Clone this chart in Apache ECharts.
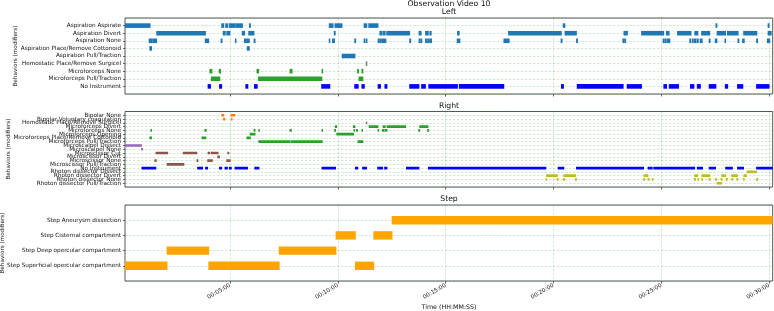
<!DOCTYPE html>
<html>
<head>
<meta charset="utf-8">
<script src="https://cdn.jsdelivr.net/npm/echarts@6.0.0/dist/echarts.min.js"></script>
<style>
  html, body { margin: 0; padding: 0; background: #fff; }
  #chart { width: 774px; height: 311px; }
</style>
</head>
<body>
<div id="chart"></div>
<script>
// time axis (seconds)
const timeMin = 8;
const timeMax = 1810;
const tickSeconds = [300, 600, 900, 1200, 1500, 1800];

// ---- Left panel ----
const leftRows = [
  'Aspiration Aspirate', 'Aspiration Divert', 'Aspiration None',
  'Aspiration Place/Remove Cottonoid', 'Aspiration Pull/Traction',
  'Hemostatic Place/Remove Surgicel', 'Microforceps None',
  'Microforceps Pull/Traction', 'No Instrument'
];
const leftColors = ['#1f77b4', '#1f77b4', '#1f77b4', '#1f77b4', '#1f77b4', '#7f7f7f', '#2ca02c', '#2ca02c', '#0000ff'];
const leftSpans = [
  [[8,78],[277,283],[288,294],[298,315],[317,335],[354,357],[576,587],[592,612],[673,681],[686,712],[1227,1232],[1652,1655],[1797,1800]],
  [[96,232],[281,287],[291,300],[334,341],[352,367],[590,593],[717,723],[726,732],[736,800],[826,832],[844,852],[856,860],[933,938],[1075,1222],[1232,1264],[1396,1406],[1445,1507],[1514,1522],[1545,1583],[1593,1602],[1612,1635],[1655,1679],[1684,1714],[1729,1766],[1797,1806]],
  [[75,84],[86,96],[231,241],[275,278],[315,317],[340,346],[348,354],[367,370],[576,578],[585,591],[647,650],[673,676],[680,681],[712,715],[717,720],[722,725],[727,734],[800,803],[826,829],[831,834],[844,848],[850,855],[857,861],[932,940],[1062,1077],[1221,1224],[1264,1267],[1393,1396],[1398,1401],[1505,1508],[1510,1514],[1517,1524],[1579,1582],[1586,1589],[1592,1596],[1599,1603],[1608,1614],[1633,1636],[1650,1655],[1677,1679],[1713,1716],[1726,1731],[1765,1768],[1795,1802]],
  [[77,82],[348,354]],
  [[612,648]],
  [[679,681]],
  [[244,250],[270,274],[375,380],[467,473],[556,558],[655,658],[667,670]],
  [[248,272],[379,469],[470,556],[659,670]],
  [[239,246],[271,277],[344,350],[368,376],[555,578],[647,657],[667,674],[712,719],[731,737],[800,826],[833,844],[853,933],[938,1062],[1222,1228],[1266,1394],[1405,1445],[1507,1515],[1522,1548],[1581,1591],[1600,1609],[1633,1652],[1678,1685],[1712,1727],[1765,1800]]
];

// ---- Right panel ----
const rightRows = [
  'Bipolar None', 'Bipolar Voluntary coagulation', 'Hemostatic Place/Remove Surgicel',
  'Microforceps Divert', 'Microforceps None', 'Microforceps Opening',
  'Microforceps Place/Remove Cottonoid', 'Microforceps Pull/Traction',
  'Microscalpel Dissect', 'Microscalpel None', 'Microscissor Cut', 'Microscissor Divert',
  'Microscissor None', 'Microscissor Pull/Traction', 'No Instrument',
  'Rhoton dissector Dissect', 'Rhoton dissector Divert', 'Rhoton dissector None',
  'Rhoton dissector Pull/Traction'
];
const rightColors = [
  '#ff7f0e', '#ff7f0e', '#7f7f7f', '#2ca02c', '#2ca02c', '#2ca02c', '#2ca02c', '#2ca02c',
  '#9467bd', '#9467bd', '#8c564b', '#8c564b', '#8c564b', '#8c564b', '#0000ff',
  '#bcbd22', '#bcbd22', '#bcbd22', '#bcbd22'
];
const rightSpans = [
  [[277,283],[303,314]],
  [[282,286],[304,306]],
  [[679,681]],
  [[593,597],[643,648],[687,712],[726,732],[737,789],[828,851]],
  [[80,82],[230,234],[367,370],[380,382],[467,471],[556,558],[591,594],[645,647],[652,655],[667,669],[712,714],[724,728],[731,737],[825,828],[850,853]],
  [[356,370],[597,644]],
  [[77,82],[222,233],[347,357]],
  [[380,467],[470,557],[656,670]],
  [[8,54]],
  [[54,57]],
  [[94,127],[170,208],[239,244],[248,267],[294,297]],
  [[266,271]],
  [[91,95],[208,211],[238,243],[245,251],[291,301]],
  [[125,172]],
  [[55,94],[210,224],[232,238],[271,277],[286,293],[298,304],[314,349],[369,381],[556,594],[649,656],[669,680],[711,725],[730,737],[791,826],[852,1179],[1213,1229],[1264,1451],[1463,1475],[1479,1593],[1600,1615],[1633,1651],[1679,1698],[1712,1729],[1765,1810]],
  [[1739,1765]],
  [[1181,1211],[1229,1262],[1452,1463],[1593,1601],[1613,1635],[1668,1679],[1696,1712],[1730,1737]],
  [[1180,1181],[1210,1213],[1228,1231],[1261,1264],[1451,1454],[1463,1466],[1475,1477],[1592,1595],[1602,1604],[1613,1615],[1633,1636],[1651,1654],[1666,1669],[1681,1684],[1696,1699],[1710,1713],[1729,1731],[1765,1768]],
  [[1655,1668]]
];

// ---- Step panel ----
const stepRows = [
  'Step Aneurysm dissection', 'Step Cisternal compartment',
  'Step Deep opercular compartment', 'Step Superficial opercular compartment'
];
const stepColors = ['#ffa500', '#ffa500', '#ffa500', '#ffa500'];
const stepSpans = [
  [[751,1810]],
  [[595,649],[700,751]],
  [[125,241],[437,595]],
  [[8,125],[241,437],[649,700]]
];

const FONT = 'DejaVu Sans';
const TXT = '#111';
const BAR_H = 0.5;

function hms(v) {
  const h = Math.floor(v / 3600), m = Math.floor((v % 3600) / 60), s = Math.round(v % 60);
  const p = (n) => String(n).padStart(2, '0');
  return p(h) + ':' + p(m) + ':' + p(s);
}

// rows sit on category slots 1..n, slots 0 and n+1 are blank padding
function buildItems(spans, colors) {
  const out = [];
  spans.forEach((row, i) => {
    row.forEach((sp) => {
      out.push({ value: [sp[0], sp[1], i + 1], itemStyle: { color: colors[i] } });
    });
  });
  return out;
}

function renderSpan(params, api) {
  const row = api.value(2);
  const a = api.coord([api.value(0), row]);
  const b = api.coord([api.value(1), row]);
  const step = Math.abs(api.coord([api.value(0), row + 1])[1] - a[1]);
  // bar + thin edge like the original
  const h = step * BAR_H + 0.8;
  let x = a[0] - 0.4;
  let w = b[0] - a[0] + 0.8;
  if (w < 1.4) { x -= (1.4 - w) / 2; w = 1.4; }
  const cs = params.coordSys;
  const shape = echarts.graphic.clipRectByRect(
    { x: x, y: a[1] - h / 2, width: w, height: h },
    { x: cs.x, y: cs.y, width: cs.width, height: cs.height }
  );
  return shape && { type: 'rect', shape: shape, style: { fill: api.visual('color') } };
}

const grids = [
  { left: 125, right: 1.3, top: 18, height: 76 },
  { left: 125, right: 1.3, top: 111.5, height: 75.5 },
  { left: 125, right: 1.3, top: 205, height: 76 }
].map((g) => Object.assign({ show: true, borderColor: '#444', borderWidth: 0.9 }, g));

const gridLineStyle = { color: 'rgba(0,128,0,0.22)', type: [2.5, 1.5], width: 0.8 };

function makeX(idx, showLabels) {
  return {
    type: 'value', gridIndex: idx, min: timeMin, max: timeMax, position: 'bottom',
    axisLine: { show: false, onZero: false },
    axisTick: { show: true, length: 2.5, customValues: tickSeconds, lineStyle: { color: '#444', width: 0.8 } },
    axisLabel: {
      show: showLabels, customValues: tickSeconds, rotate: 30, margin: 4,
      fontSize: 5.7, fontFamily: FONT, color: TXT, formatter: hms
    },
    splitLine: { show: true, lineStyle: gridLineStyle }
  };
}

function makeY(idx, rows) {
  const n = rows.length;
  return {
    type: 'category', gridIndex: idx, inverse: true, boundaryGap: false,
    data: [''].concat(rows, ['']), position: 'left',
    axisLine: { show: false, onZero: false },
    axisTick: {
      show: true, length: 2, interval: (i) => i > 0 && i <= n,
      lineStyle: { color: '#444', width: 0.8 }
    },
    axisLabel: { interval: 0, margin: 4, fontSize: 5.7, fontFamily: FONT, color: TXT },
    splitLine: { show: true, interval: 0, lineStyle: gridLineStyle }
  };
}

function makeSeries(idx, spans, colors) {
  return {
    type: 'custom', xAxisIndex: idx, yAxisIndex: idx, clip: true,
    renderItem: renderSpan, encode: { x: [0, 1], y: 2 },
    data: buildItems(spans, colors), animation: false
  };
}

function txt(x, y, text, size, rot) {
  return {
    type: 'text', x: x, y: y, rotation: rot || 0,
    style: { text: text, fontSize: size, fontFamily: FONT, fill: TXT, align: 'center', verticalAlign: 'middle' }
  };
}

const chart = echarts.init(document.getElementById('chart'));
chart.setOption({
  animation: false,
  grid: grids,
  xAxis: [makeX(0, false), makeX(1, false), makeX(2, true)],
  yAxis: [makeY(0, leftRows), makeY(1, rightRows), makeY(2, stepRows)],
  series: [
    makeSeries(0, leftSpans, leftColors),
    makeSeries(1, rightSpans, rightColors),
    makeSeries(2, stepSpans, stepColors)
  ],
  graphic: [
    txt(449, 4, 'Observation Video 10', 7.7),
    txt(449, 11.8, 'Left', 7.7),
    txt(449, 106, 'Right', 7.7),
    txt(449, 199.5, 'Step', 7.7),
    txt(449, 307.5, 'Time (HH:MM:SS)', 6.3),
    txt(16, 56, 'Behaviors (modifiers)', 5.7, Math.PI / 2),
    txt(9, 149, 'Behaviors (modifiers)', 5.7, Math.PI / 2),
    txt(2.5, 243, 'Behaviors (modifiers)', 5.7, Math.PI / 2)
  ]
});
</script>
</body>
</html>
